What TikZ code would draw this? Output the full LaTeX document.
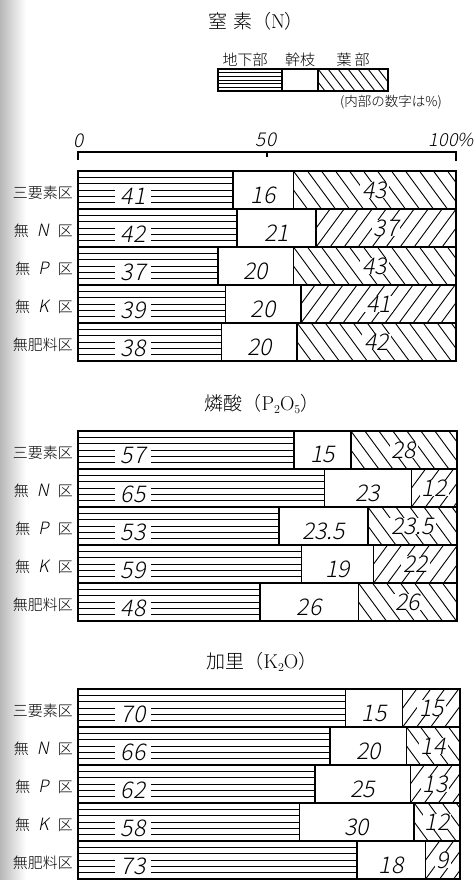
\documentclass[tikz,border=0pt]{standalone}
\usepackage{fontspec}
\usepackage{graphicx}
\newfontfamily\jpfont{Noto Sans CJK JP Light}
\newfontfamily\numfont[FakeSlant=0.2]{Noto Sans CJK JP Light}
\usetikzlibrary{calc}

\tikzset{
	bar/.style={line width=1.5pt},
	hatch/.style={line width=0.9pt},
	rowlab/.style={anchor=east, inner sep=0pt, font=\jpfont\fontsize{15}{15}\selectfont},
	num/.style={inner xsep=6pt, inner ysep=0pt, font=\numfont\fontsize{23}{23}\selectfont},
	axnum/.style={inner sep=0pt, font=\numfont\fontsize{19}{19}\selectfont},
	title/.style={inner sep=0pt, font=\jpfont\fontsize{19}{19}\selectfont},
	leglab/.style={inner sep=0pt, font=\jpfont\fontsize{15}{15}\selectfont},
}

\newcommand\wu[1]{無\hspace{8pt}{\numfont\fontsize{17}{17}\selectfont #1}\hspace{9pt}区}
\newcommand\sub[1]{\raisebox{-0.3ex}{\fontsize{12}{12}\selectfont #1}}

% #1 name, #2 top, #3 right end (100%), #4 rows
\newcommand\barset[4]{%
	\foreach \lab/\ra/\rb/\rc/\dir [count=\i from 0] in {#4} {
		\pgfmathsetmacro\yt{#2+38*\i}
		\pgfmathsetmacro\yb{\yt+38}
		\pgfmathsetmacro\xa{78+\ra/100*(#3-78)}
		\pgfmathsetmacro\xb{78+(\ra+\rb)/100*(#3-78)}
		\foreach \k in {1,...,5}
			\draw[hatch] (78,\yt+6.33*\k) -- (\xa,\yt+6.33*\k);
		\begin{scope}
			\clip (\xb,\yt) rectangle (#3,\yb);
			\foreach \k in {-3,...,14}
				\draw[hatch] (\xb+14*\k,\yt) -- ++(28*\dir,38);
		\end{scope}
		\node[rowlab] (#1l\i) at (73,\yt+22) {\lab};
		\node[num, fill=white] (#1a\i) at (133,\yt+25) {\ra};
		\node[num] (#1b\i) at ({(\xa+\xb)/2},\yt+24) {\rb};
		\node[num, fill=white, inner xsep=2pt] (#1c\i) at ({(\xb+#3)/2},\yt+19) {\rc};
		\draw[bar] (78,\yt) rectangle (#3,\yb);
		\draw[bar] (\xa,\yt) -- (\xa,\yb) (\xb,\yt) -- (\xb,\yb);
	}
}

\begin{document}
\begin{tikzpicture}[x=1pt, y=-1pt]
	\useasboundingbox (0,0) rectangle (476,880);
	\shade[left color=black!28, right color=white] (0,0) rectangle (26,880);

	\node[title] (tN) at (256,21) {窒\hspace{6pt}素（{\rmfamily\fontsize{20}{20}\selectfont N}）};

	% legend
	\node[leglab] (lg1) at (245,60) {地下部};
	\node[leglab] (lg2) at (300,60) {幹枝};
	\node[leglab] (lg3) at (353,60) {葉\hspace{3pt}部};
	\foreach \k in {1,...,5}
		\draw[hatch] (218,69+3.7*\k) -- (282,69+3.7*\k);
	\begin{scope}
		\clip (318,69) rectangle (388,91);
		\foreach \k in {-2,...,7}
			\draw[hatch] (318+10*\k,69) -- ++(17,22);
	\end{scope}
	\draw[bar] (218,69) rectangle (388,91) (282,69) -- (282,91) (318,69) -- (318,91);
	\node[leglab, font=\jpfont\fontsize{13.5}{13.5}\selectfont] (lgn) at (391,102) {(内部の数字は\%)};

	% scale
	\node[axnum] (ax0) at (79,141) {0};
	\node[axnum] (ax50) at (266,140) {50};
	\node[axnum, anchor=east, font=\numfont\fontsize{18}{18}\selectfont] (ax100) at (474,140) {100\%};
	\draw[bar] (78,160) -- (78,152) -- (456,152) -- (456,161);
	\draw[bar] (267,152) -- (267,157);

	\barset{N}{171}{456}{{三要素区}/41/16/43/1, {\wu{N}}/42/21/37/-1, {\wu{P}}/37/20/43/1, {\wu{K}}/39/20/41/-1, {無肥料区}/38/20/42/1}

	\node[title] (tP) at (262,404) {燐酸（{\rmfamily\fontsize{20}{20}\selectfont P\sub{2}O\sub{5}}）};
	\barset{P}{431}{457}{{三要素区}/57/15/28/1, {\wu{N}}/65/23/12/-1, {\wu{P}}/53/23.5/23.5/1, {\wu{K}}/59/19/22/-1, {無肥料区}/48/26/26/1}

	\node[title] (tK) at (262,662) {加里（{\rmfamily\fontsize{20}{20}\selectfont K\sub{2}O}）};
	\barset{K}{689}{460}{{三要素区}/70/15/15/-1, {\wu{N}}/66/20/14/1, {\wu{P}}/62/25/13/-1, {\wu{K}}/58/30/12/1, {無肥料区}/73/18/9/-1}
\end{tikzpicture}
\end{document}
